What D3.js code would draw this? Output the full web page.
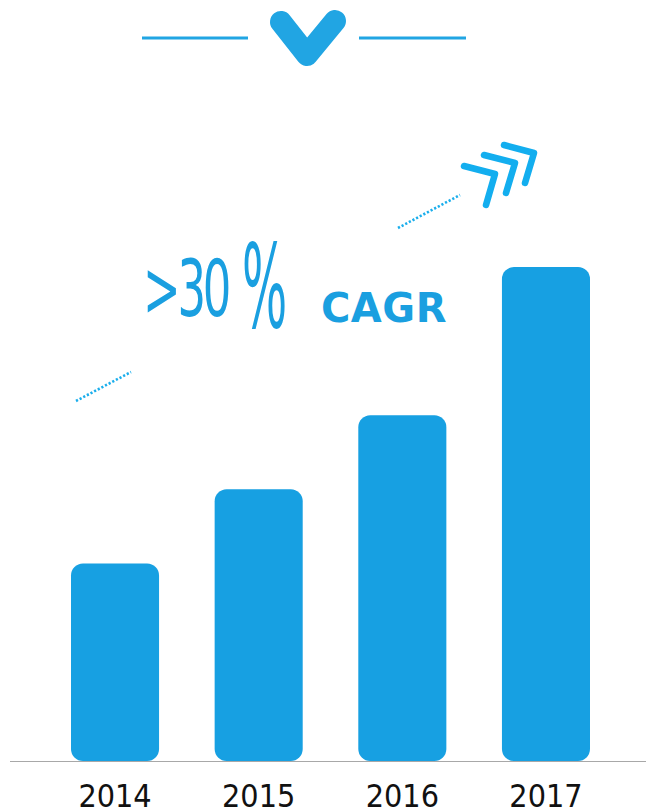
<!DOCTYPE html>
<html>
<head>
<meta charset="utf-8">
<script src="https://cdn.jsdelivr.net/npm/d3@7"></script>
<style>
  html, body { margin: 0; padding: 0; background: #fff; }
  svg { display: block; }
</style>
</head>
<body>
<svg id="chart" width="646" height="809"></svg>
<script>
// Yearly figures (relative index, 2017 = 100)
const years = ["2014", "2015", "2016", "2017"];
const values = [40, 55, 70, 100];
const headlineValue = ">30";
const headlineUnit = "%";
const headlineTag = "CAGR";

const W = 646, H = 809;
const blue = "#17A0E2";
const svg = d3.select("#chart");

// Scales
const x = d3.scaleBand().domain(years).range([71, 590]).paddingInner(0.387).paddingOuter(0);
const y = d3.scaleLinear().domain([0, 100]).range([761, 267]);

// Bars (fully rounded rectangles sitting on the baseline)
svg.append("g").selectAll("rect").data(years).join("rect")
  .attr("x", d => x(d))
  .attr("width", x.bandwidth())
  .attr("y", (d, i) => y(values[i]))
  .attr("height", (d, i) => y(0) - y(values[i]))
  .attr("rx", 12).attr("ry", 12)
  .attr("fill", blue);

// Baseline
svg.append("line")
  .attr("x1", 10).attr("x2", W).attr("y1", 761.5).attr("y2", 761.5)
  .attr("stroke", "#a8a8a8").attr("stroke-width", 1);

// Year labels
const axis = d3.axisBottom(x).tickSize(0).tickPadding(0);
const gx = svg.append("g").attr("transform", "translate(0,807)").call(axis);
gx.select(".domain").remove();
gx.selectAll("text")
  .attr("font-family", "'DejaVu Sans Condensed', 'DejaVu Sans', sans-serif")
  .attr("font-weight", 200)
  .attr("font-size", 32)
  .attr("fill", "#111")
  .attr("y", 0)
  .attr("dy", 0);

// Header emblem: two rules with a bold check mark between them
const head = svg.append("g");
head.append("line").attr("x1", 142).attr("x2", 248).attr("y1", 38).attr("y2", 38)
  .attr("stroke", "#21A5E3").attr("stroke-width", 3);
head.append("line").attr("x1", 359).attr("x2", 466).attr("y1", 38).attr("y2", 38)
  .attr("stroke", "#21A5E3").attr("stroke-width", 3);
head.append("path")
  .attr("d", "M281,22 L307,55 L335,21")
  .attr("fill", "none").attr("stroke", "#21A5E3")
  .attr("stroke-width", 22).attr("stroke-linecap", "round").attr("stroke-linejoin", "round");

// Growth annotation: dotted trend segments and chevrons
const dots = svg.append("g").attr("stroke", "#1AAEEC").attr("stroke-width", 2.6)
  .attr("stroke-dasharray", "2.2,1.9").attr("fill", "none");
dots.append("line").attr("x1", 76).attr("y1", 401).attr("x2", 131).attr("y2", 372);
dots.append("line").attr("x1", 398).attr("y1", 228).attr("x2", 460).attr("y2", 195);

const chev = svg.append("g").attr("stroke", "#13AEEF").attr("stroke-width", 6.5)
  .attr("fill", "none").attr("stroke-linecap", "round").attr("stroke-linejoin", "round");
chev.append("path").attr("d", "M464,166 L495,174 L486,205");
chev.append("path").attr("d", "M484,155 L515,163 L506,193");
chev.append("path").attr("d", "M504,145 L534,153 L525,183");

// Headline: growth figure, narrow tall percent sign, then the tag
const headFont = "'DejaVu Sans Condensed', 'DejaVu Sans', sans-serif";
svg.append("text")
  .attr("transform", "translate(143,316) scale(0.64,1)")
  .attr("font-family", headFont)
  .attr("font-weight", 200)
  .attr("font-size", 78)
  .attr("letter-spacing", -5)
  .attr("fill", "#1A9FE0")
  .text(headlineValue);

svg.append("text")
  .attr("transform", "translate(242,327) scale(0.66,1.45)")
  .attr("font-family", headFont)
  .attr("font-weight", 200)
  .attr("font-size", 80)
  .attr("fill", "#1A9FE0")
  .text(headlineUnit);

svg.append("text")
  .attr("x", 321).attr("y", 322)
  .attr("font-family", "'DejaVu Sans', sans-serif")
  .attr("font-weight", 700)
  .attr("font-size", 40)
  .attr("letter-spacing", 0.5)
  .attr("fill", "#1A9FE0")
  .text(headlineTag);
</script>
</body>
</html>
